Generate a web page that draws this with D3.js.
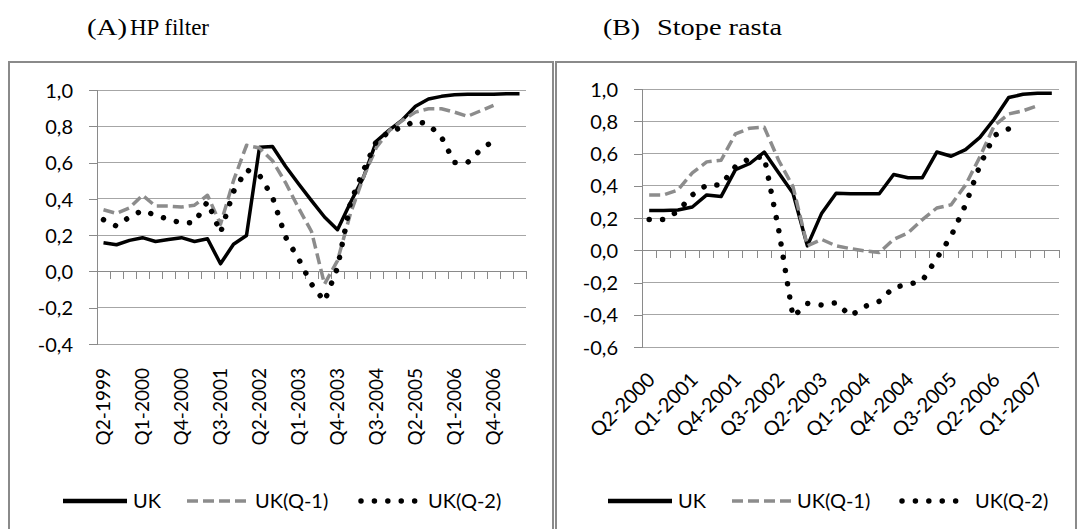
<!DOCTYPE html>
<html>
<head>
<meta charset="utf-8">
<script src="https://cdn.jsdelivr.net/npm/d3@7"></script>
<style>
  body { margin: 0; background: #fff; }
  svg { display: block; }
  .tick-label, .legend-label { font-family: Lato, "Open Sans", sans-serif; fill: #000; }
  .panel-title { font-family: "Liberation Serif", "Times New Roman", serif; fill: #000; }
</style>
</head>
<body>
<svg id="chart" width="1082" height="529"></svg>
<script>
// ---- Panel A: HP filter ----
const quartersA = ["Q2-1999","Q3-1999","Q4-1999","Q1-2000","Q2-2000","Q3-2000","Q4-2000","Q1-2001",
  "Q2-2001","Q3-2001","Q4-2001","Q1-2002","Q2-2002","Q3-2002","Q4-2002","Q1-2003","Q2-2003","Q3-2003",
  "Q4-2003","Q1-2004","Q2-2004","Q3-2004","Q4-2004","Q1-2005","Q2-2005","Q3-2005","Q4-2005","Q1-2006",
  "Q2-2006","Q3-2006","Q4-2006","Q1-2007","Q2-2007"];
const labelsA = ["Q2-1999","Q1-2000","Q4-2000","Q3-2001","Q2-2002","Q1-2003","Q4-2003","Q3-2004","Q2-2005","Q1-2006","Q4-2006"];
const yTicksA = [-0.4, -0.2, 0, 0.2, 0.4, 0.6, 0.8, 1.0];
const ukA = [0.158,0.147,0.171,0.186,0.165,0.176,0.186,0.165,0.18,0.042,0.15,0.198,0.685,0.689,0.58,0.483,
  0.39,0.30,0.23,0.38,0.52,0.718,0.78,0.836,0.91,0.95,0.965,0.974,0.976,0.976,0.976,0.98,0.98];
const ukQ1A = [0.34,0.32,0.35,0.42,0.36,0.36,0.355,0.365,0.42,0.26,0.5,0.695,0.68,0.61,0.49,0.35,0.22,
  -0.07,0.06,0.32,0.52,0.685,0.777,0.833,0.878,0.897,0.897,0.878,0.855,0.885,0.915];
const ukQ2A = [0.285,0.25,0.30,0.336,0.31,0.287,0.267,0.27,0.385,0.213,0.44,0.56,0.53,0.41,0.19,0.07,-0.07,
  -0.165,0.02,0.38,0.557,0.72,0.77,0.795,0.83,0.81,0.74,0.60,0.60,0.67,0.72];

// ---- Panel B: Stope rasta ----
const quartersB = ["Q2-2000","Q3-2000","Q4-2000","Q1-2001","Q2-2001","Q3-2001","Q4-2001","Q1-2002",
  "Q2-2002","Q3-2002","Q4-2002","Q1-2003","Q2-2003","Q3-2003","Q4-2003","Q1-2004","Q2-2004","Q3-2004",
  "Q4-2004","Q1-2005","Q2-2005","Q3-2005","Q4-2005","Q1-2006","Q2-2006","Q3-2006","Q4-2006","Q1-2007","Q2-2007"];
const labelsB = ["Q2-2000","Q1-2001","Q4-2001","Q3-2002","Q2-2003","Q1-2004","Q4-2004","Q3-2005","Q2-2006","Q1-2007"];
const yTicksB = [-0.6, -0.4, -0.2, 0, 0.2, 0.4, 0.6, 0.8, 1.0];
const ukB = [0.247,0.247,0.25,0.268,0.343,0.333,0.50,0.538,0.609,0.48,0.354,0.027,0.23,0.354,0.35,0.35,
  0.35,0.47,0.45,0.45,0.609,0.583,0.624,0.70,0.814,0.947,0.967,0.973,0.973];
const ukQ1B = [0.343,0.343,0.374,0.48,0.548,0.558,0.722,0.757,0.763,0.558,0.395,0.027,0.067,0.027,0.01,
  -0.004,-0.014,0.067,0.108,0.19,0.262,0.282,0.405,0.579,0.773,0.845,0.865,0.896];
const ukQ2B = [0.19,0.19,0.241,0.343,0.405,0.405,0.52,0.57,0.58,0.13,-0.413,-0.33,-0.34,-0.325,-0.407,
  -0.348,-0.317,-0.23,-0.213,-0.189,-0.05,0.088,0.282,0.527,0.712,0.753];

const seriesNames = ["UK", "UK(Q-1)", "UK(Q-2)"];

// line styles for the three series
const styles = [
  { stroke: "#000", width: 3.5, dash: null, cap: "butt" },
  { stroke: "#8c8c8c", width: 3.5, dash: "11,5", cap: "butt" },
  { stroke: "#000", width: 5.5, dash: "0.01,13.4", cap: "round" }
];

const locale = d3.formatLocale({ decimal: ",", thousands: ".", grouping: [3], currency: ["", ""], minus: "-" });
const fmt = locale.format(".1f");

const svg = d3.select("#chart");

// panel frames
svg.append("rect").attr("x", 9).attr("y", 62).attr("width", 544).attr("height", 500)
  .attr("fill", "none").attr("stroke", "#8a8a8a").attr("stroke-width", 2);
svg.append("rect").attr("x", 556).attr("y", 62).attr("width", 520).attr("height", 500)
  .attr("fill", "none").attr("stroke", "#8a8a8a").attr("stroke-width", 2);

function drawPanel(cfg) {
  const g = svg.append("g");
  const x = d3.scaleBand().domain(cfg.cats).range([cfg.left, cfg.right]).paddingInner(0).paddingOuter(0);
  const y = d3.scaleLinear().domain(d3.extent(cfg.yTicks)).range([cfg.bottom, cfg.top]);
  const bw = x.bandwidth();

  // horizontal gridlines
  g.append("g").selectAll("line").data(cfg.yTicks).join("line")
    .attr("x1", cfg.left).attr("x2", cfg.right)
    .attr("y1", d => y(d)).attr("y2", d => y(d))
    .attr("stroke", d => d === 0 ? "#8a8a8a" : "#a6a6a6").attr("stroke-width", 1)
    .attr("shape-rendering", "crispEdges");

  // value axis
  const yAxis = d3.axisLeft(y).tickValues(cfg.yTicks).tickFormat(fmt).tickSize(8).tickPadding(16);
  const ya = g.append("g").attr("transform", `translate(${cfg.left},0)`).call(yAxis);
  ya.select(".domain").attr("stroke", "#8a8a8a").attr("shape-rendering", "crispEdges");
  ya.selectAll(".tick line").attr("stroke", "#8a8a8a").attr("shape-rendering", "crispEdges");
  ya.selectAll(".tick text").attr("class", "tick-label").style("font-size", "20px")
    .attr("font-family", null).attr("dy", "0.36em");

  // category tick marks on the zero line (between categories)
  const bounds = cfg.cats.map((c, i) => x(c) + bw);
  g.append("g").selectAll("line").data(bounds).join("line")
    .attr("x1", d => d).attr("x2", d => d)
    .attr("y1", y(0)).attr("y2", y(0) + 8)
    .attr("stroke", "#8a8a8a").attr("stroke-width", 1).attr("shape-rendering", "crispEdges");

  // category labels below the plot
  const lab = g.append("g").selectAll("text").data(cfg.labels).join("text")
    .attr("class", "tick-label")
    .attr("text-anchor", "end")
    .text(d => d);
  if (cfg.rotate === -90) {
    lab.style("font-size", "19px")
      .attr("transform", d => `translate(${x(d) + bw / 2 + 6.5},${cfg.bottom + 24}) rotate(-90)`);
  } else {
    lab.style("font-size", "20px")
      .attr("transform", d => `translate(${x(d) + bw / 2 + 7},${cfg.bottom + 34}) rotate(-45)`);
  }

  // series lines
  const line = d3.line().x((d, i) => x(cfg.cats[i]) + bw / 2).y(d => y(d));
  cfg.series.forEach((vals, k) => {
    const s = styles[k];
    g.append("path").datum(vals).attr("d", line)
      .attr("fill", "none").attr("stroke", s.stroke).attr("stroke-width", s.width)
      .attr("stroke-dasharray", s.dash).attr("stroke-linecap", s.cap)
      .attr("stroke-linejoin", "round");
  });

  // legend
  const lg = g.append("g").attr("transform", `translate(0,${cfg.legendY})`);
  cfg.legendX.forEach((lx, k) => {
    const s = styles[k];
    lg.append("line").attr("x1", lx[0]).attr("x2", lx[1]).attr("y1", 0).attr("y2", 0)
      .attr("stroke", s.stroke).attr("stroke-width", k === 0 ? 4.5 : s.width)
      .attr("stroke-dasharray", s.dash).attr("stroke-linecap", s.cap);
    lg.append("text").attr("class", "legend-label").style("font-size", "20px")
      .attr("x", lx[2]).attr("y", 0).attr("dy", "0.35em").text(seriesNames[k]);
  });

  // panel title: label and caption
  cfg.title.forEach(t => {
    g.append("text").attr("class", "panel-title").style("font-size", "24px")
      .attr("x", t.x).attr("y", 35)
      .attr("textLength", t.len).attr("lengthAdjust", "spacingAndGlyphs")
      .text(t.text);
  });
}

drawPanel({
  cats: quartersA, labels: labelsA, yTicks: yTicksA,
  left: 97, right: 526, top: 90, bottom: 344, rotate: -90,
  series: [ukA, ukQ1A, ukQ2A],
  legendY: 501, legendX: [[63, 127, 133], [187, 250, 255], [361, 416, 428]],
  title: [{ text: "(A)", x: 87, len: 40 }, { text: "HP filter", x: 130, len: 79 }]
});

drawPanel({
  cats: quartersB, labels: labelsB, yTicks: yTicksB,
  left: 642, right: 1059, top: 89, bottom: 347, rotate: -45,
  series: [ukB, ukQ1B, ukQ2B],
  legendY: 501, legendX: [[608, 672, 678], [732, 794, 797], [902, 957, 975]],
  title: [{ text: "(B)", x: 603, len: 37 }, { text: "Stope rasta", x: 657, len: 125 }]
});
</script>
</body>
</html>
